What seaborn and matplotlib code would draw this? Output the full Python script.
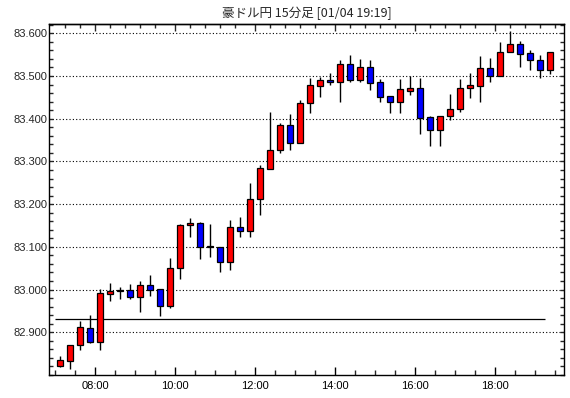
import numpy as np
import pandas as pd
import matplotlib
matplotlib.use("Agg")
import matplotlib.pyplot as plt
import seaborn as sns
from matplotlib.ticker import FixedLocator, FormatStrFormatter

title = "豪ドル円 15分足 [01/04 19:19]"
tick_labels = ["08:00", "10:00", "12:00", "14:00", "16:00", "18:00"]
tick_pos = [3.5, 11.5, 19.5, 27.5, 35.5, 43.5]

opens = [82.820, 82.833, 82.870, 82.909, 82.878, 82.990, 82.997, 82.998, 82.983, 83.010,
         83.001, 82.962, 83.050, 83.150, 83.155, 83.100, 83.100, 83.064, 83.146, 83.136,
         83.211, 83.283, 83.326, 83.385, 83.343, 83.436, 83.476, 83.490, 83.486, 83.527,
         83.490, 83.520, 83.485, 83.453, 83.438, 83.466, 83.472, 83.403, 83.374, 83.406,
         83.422, 83.471, 83.477, 83.518, 83.501, 83.555, 83.576, 83.553, 83.537, 83.513]
highs = [82.845, 82.870, 82.926, 82.941, 83.001, 83.015, 83.007, 83.013, 83.021, 83.034,
         83.001, 83.074, 83.154, 83.167, 83.159, 83.154, 83.100, 83.163, 83.169, 83.250,
         83.292, 83.415, 83.389, 83.411, 83.444, 83.495, 83.498, 83.506, 83.537, 83.549,
         83.540, 83.537, 83.493, 83.453, 83.493, 83.500, 83.495, 83.406, 83.406, 83.458,
         83.494, 83.508, 83.547, 83.541, 83.580, 83.605, 83.582, 83.561, 83.549, 83.555]
lows = [82.819, 82.814, 82.859, 82.876, 82.859, 82.974, 82.979, 82.979, 82.948, 82.985,
        82.938, 82.958, 83.024, 83.124, 83.072, 83.077, 83.042, 83.046, 83.122, 83.124,
        83.175, 83.282, 83.319, 83.326, 83.343, 83.414, 83.450, 83.478, 83.440, 83.485,
        83.485, 83.468, 83.439, 83.413, 83.414, 83.455, 83.365, 83.335, 83.337, 83.396,
        83.416, 83.449, 83.440, 83.485, 83.501, 83.555, 83.520, 83.513, 83.495, 83.505]
closes = [82.835, 82.870, 82.912, 82.878, 82.991, 82.996, 82.998, 82.983, 83.010, 83.000,
          82.962, 83.050, 83.151, 83.155, 83.099, 83.101, 83.064, 83.146, 83.136, 83.211,
          83.284, 83.326, 83.385, 83.343, 83.436, 83.478, 83.490, 83.485, 83.527, 83.490,
          83.520, 83.483, 83.451, 83.438, 83.469, 83.472, 83.402, 83.374, 83.406, 83.422,
          83.471, 83.479, 83.518, 83.501, 83.555, 83.576, 83.552, 83.537, 83.513, 83.555]
prev_close = 82.930

df = pd.DataFrame({"o": opens, "h": highs, "l": lows, "c": closes})
df["i"] = np.arange(len(df))
df["up"] = df["c"] >= df["o"]
df["bottom"] = df[["o", "c"]].min(axis=1)
df["height"] = (df["c"] - df["o"]).abs().clip(lower=0.0012)
df["color"] = np.where(df["up"], "#ff0000", "#0000ff")

sns.set_style("ticks")
plt.rcParams["font.family"] = ["Liberation Sans", "DejaVu Sans"]

fig = plt.figure(figsize=(5.70, 3.98), dpi=100)
ax = fig.add_axes([49.3 / 570, 1 - 375 / 398, (564 - 49.3) / 570, (375 - 24.3) / 398])

# grid
for v in np.arange(82.9, 83.61, 0.1):
    pass
ax.yaxis.grid(True, which="major", color="black", linestyle=(0, (1, 2)), linewidth=0.8, zorder=0)
ax.xaxis.grid(False)

# wicks
ax.vlines(df["i"], df["l"], df["h"], color="black", linewidth=1.0, zorder=2)
# bodies
ax.bar(df["i"], df["height"], bottom=df["bottom"], width=0.62, color=df["color"],
       edgecolor="black", linewidth=0.9, zorder=3)
# previous close line
ax.hlines(prev_close, -0.5, 48.5, color="black", linewidth=0.9, zorder=1)

ax.set_xlim(-1.1, 50.37)
ax.set_ylim(82.80, 83.621)

ax.set_xticks(tick_pos)
ax.set_xticklabels(tick_labels)
minor_x = [p for p in np.arange(-0.5, 50.0, 2.0) if p not in tick_pos]
ax.xaxis.set_minor_locator(FixedLocator(minor_x))
ax.yaxis.set_major_locator(FixedLocator(np.round(np.arange(82.9, 83.61, 0.1), 3)))
ax.yaxis.set_major_formatter(FormatStrFormatter("%.3f"))
ax.yaxis.set_minor_locator(FixedLocator(np.round(np.arange(82.80, 83.621, 0.02), 3)))

ax.tick_params(axis="x", which="major", direction="in", length=6, width=1, pad=4,
               labelsize=8, colors="black", top=False)
ax.tick_params(axis="x", which="minor", direction="in", length=3.5, width=1, top=False)
ax.tick_params(axis="y", which="major", direction="in", length=3, width=1, pad=1.5,
               labelsize=8, right=True)
ax.tick_params(axis="y", which="minor", direction="in", length=3, width=1, right=True)

top = ax.secondary_xaxis("top")
top_minor = []
for m in tick_pos:
    for k in range(1, 5):
        top_minor.append(m + 1.5 * k)
top_minor += [tick_pos[0] - 1.5, tick_pos[0] - 3.0]
top_minor = [t for t in top_minor if t < 50.3]
top.set_xticks(tick_pos)
top.set_xticklabels([])
top.xaxis.set_minor_locator(FixedLocator(top_minor))
top.tick_params(which="major", direction="in", length=5, width=1)
top.tick_params(which="minor", direction="in", length=3, width=1)
top.spines["top"].set_linewidth(1.0)

for s in ax.spines.values():
    s.set_visible(True)
    s.set_color("black")
    s.set_linewidth(1.0)

ax.set_title(title, fontsize=9, pad=5, family=["Noto Sans CJK JP", "DejaVu Sans"])

fig.savefig("out.png", dpi=100, facecolor="white")
